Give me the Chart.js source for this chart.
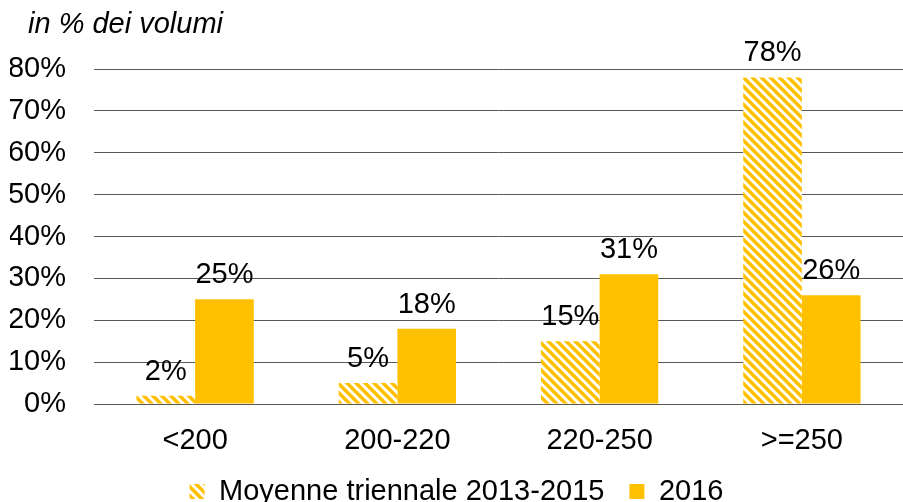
<!DOCTYPE html>
<html>
<head>
<meta charset="utf-8">
<script src="https://cdn.jsdelivr.net/npm/chart.js@4/dist/chart.umd.min.js"></script>
<style>
    html, body { margin: 0; padding: 0; background: #fff; }
    #wrap { width: 903px; height: 502px; }
</style>
</head>
<body>
<div id="wrap"><canvas id="volChart" width="903" height="502"></canvas></div>
<script>
const categories = ["<200", "200-220", "220-250", ">=250"];
const avg2013_2015 = [2, 5, 15, 78];
const values2016 = [25, 18, 31, 26];
const yTicks = [0, 10, 20, 30, 40, 50, 60, 70, 80];
const seriesNames = ["Moyenne triennale 2013-2015", "2016"];
const unitTitle = "in % dei volumi";

const GOLD = "#FFC000";
const FONT = "Liberation Sans, Arial, sans-serif";
const FONT_SIZE = 29;

// diagonal stripes going down-right, gold on white
function makeHatch() {
    const size = 9;
    const c = document.createElement("canvas");
    c.width = size;
    c.height = size;
    const ctx = c.getContext("2d");
    ctx.fillStyle = "#fff";
    ctx.fillRect(0, 0, size, size);
    ctx.strokeStyle = GOLD;
    ctx.lineWidth = 3.6;
    ctx.beginPath();
    ctx.moveTo(-3, -3);
    ctx.lineTo(size + 3, size + 3);
    ctx.moveTo(-3, size - 3);
    ctx.lineTo(3, size + 3);
    ctx.moveTo(size - 3, -3);
    ctx.lineTo(size + 3, 3);
    ctx.stroke();
    return ctx.createPattern(c, "repeat");
}

const titlePlugin = {
    id: "unitTitle",
    afterDraw(chart) {
        const ctx = chart.ctx;
        ctx.save();
        ctx.font = "italic " + FONT_SIZE + "px " + FONT;
        ctx.fillStyle = "#000";
        ctx.textBaseline = "middle";
        ctx.textAlign = "left";
        ctx.fillText(unitTitle, 28, 25);
        ctx.restore();
    },
};

const valueLabels = {
    id: "valueLabels",
    afterDatasetsDraw(chart) {
        const ctx = chart.ctx;
        ctx.save();
        ctx.font = FONT_SIZE + "px " + FONT;
        ctx.fillStyle = "#000";
        ctx.textAlign = "center";
        ctx.textBaseline = "alphabetic";
        chart.data.datasets.forEach((ds, i) => {
            chart.getDatasetMeta(i).data.forEach((bar, j) => {
                ctx.fillText(ds.data[j] + "%", bar.x, bar.y - 16);
            });
        });
        ctx.restore();
    },
};

const hatch = makeHatch();

new Chart(document.getElementById("volChart"), {
    type: "bar",
    data: {
        labels: categories,
        datasets: [
            {
                label: seriesNames[0],
                data: avg2013_2015,
                backgroundColor: hatch,
                borderWidth: 0,
            },
            {
                label: seriesNames[1],
                data: values2016,
                backgroundColor: GOLD,
                borderWidth: 0,
            },
        ],
    },
    options: {
        responsive: false,
        animation: false,
        devicePixelRatio: 1,
        layout: {
            padding: { left: 10, right: 0, top: 69, bottom: -14 },
        },
        datasets: {
            bar: { categoryPercentage: 0.58, barPercentage: 1 },
        },
        scales: {
            x: {
                grid: { display: false },
                border: { color: "#595959", width: 1 },
                ticks: {
                    color: "#000",
                    font: { family: FONT, size: FONT_SIZE },
                    padding: 12,
                },
                afterFit(axis) {
                    axis.height = 48;
                },
            },
            y: {
                min: 0,
                max: 80,
                afterBuildTicks(axis) {
                    axis.ticks = yTicks.map((v) => ({ value: v }));
                },
                afterFit(axis) {
                    axis.width = 84;
                },
                border: { display: false },
                grid: { color: "#595959", lineWidth: 1, drawTicks: false },
                ticks: {
                    color: "#000",
                    font: { family: FONT, size: FONT_SIZE },
                    padding: 28,
                    callback: (v) => v + "%",
                },
            },
        },
        plugins: {
            legend: {
                position: "bottom",
                labels: {
                    color: "#000",
                    font: { family: FONT, size: FONT_SIZE },
                    boxWidth: 15,
                    boxHeight: 15,
                    padding: 25,
                },
            },
            tooltip: { enabled: false },
        },
    },
    plugins: [titlePlugin, valueLabels],
});
</script>
</body>
</html>
